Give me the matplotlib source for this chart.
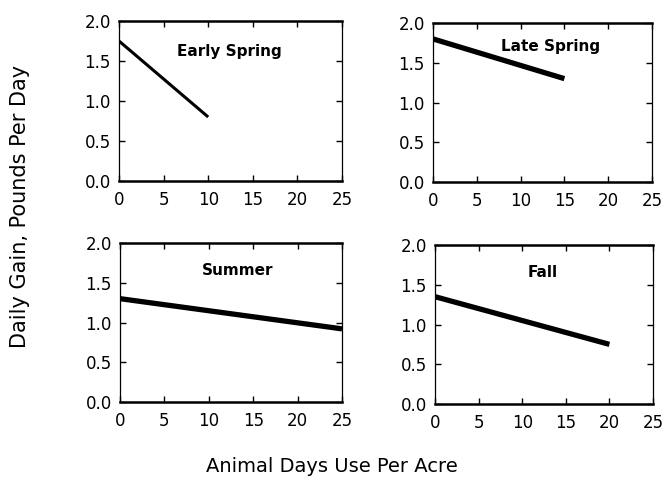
import matplotlib
matplotlib.use("Agg")
import matplotlib.pyplot as plt

W, H = 665, 482
plt.rcParams['font.family'] = ['DejaVu Sans']

seasons = ["Early Spring", "Late Spring", "Summer", "Fall"]
x_start = [0, 0, 0, 0]
x_end = [10, 15, 25, 20]
y_start = [1.75, 1.80, 1.30, 1.35]
y_end = [0.80, 1.30, 0.92, 0.75]
label_x = [12.4, 13.4, 13.2, 12.3]
label_y = [1.62, 1.71, 1.65, 1.65]
line_w = [2.2, 3.8, 3.8, 3.8]
xticks = [0, 5, 10, 15, 20, 25]
yticks = [0.0, 0.5, 1.0, 1.5, 2.0]
ytick_labels = ["0.0", "0.5", "1.0", "1.5", "2.0"]

# pixel boxes: (left, top, right, bottom)
boxes = [(119, 21, 342, 181), (433, 23, 652, 182), (120, 243, 342, 402), (435, 245, 653, 404)]

fig = plt.figure(figsize=(W / 100, H / 100), dpi=100)
for i, (l, t, r, b) in enumerate(boxes):
    ax = fig.add_axes([l / W, 1 - b / H, (r - l) / W, (b - t) / H])
    ax.plot([x_start[i], x_end[i]], [y_start[i], y_end[i]], color='black',
            lw=line_w[i], solid_capstyle='butt')
    ax.set_xlim(0, 25)
    ax.set_ylim(0, 2.0)
    ax.set_xticks(xticks)
    ax.set_xticklabels([str(v) for v in xticks])
    ax.set_yticks(yticks)
    ax.set_yticklabels(ytick_labels)
    ax.tick_params(direction='in', length=4, width=1, top=True, right=True,
                   labelsize=12, pad=6, colors='black')
    ax.tick_params(axis='x', pad=7)
    for s in ['top', 'bottom']:
        ax.spines[s].set_linewidth(1.8)
    for s in ['left', 'right']:
        ax.spines[s].set_linewidth(0.9)
        ax.spines[s].set_linestyle((0, (6, 1)))
    ax.text(label_x[i], label_y[i], seasons[i], ha='center', va='center', fontsize=11,
            fontweight='bold')

fig.text(20 / W, 1 - 206 / H, "Daily Gain, Pounds Per Day", rotation=90, ha='center',
         va='center', fontsize=15)
fig.text(332 / W, 1 - 466 / H, "Animal Days Use Per Acre", ha='center', va='center',
         fontsize=14)

fig.savefig("out.png", dpi=100)
